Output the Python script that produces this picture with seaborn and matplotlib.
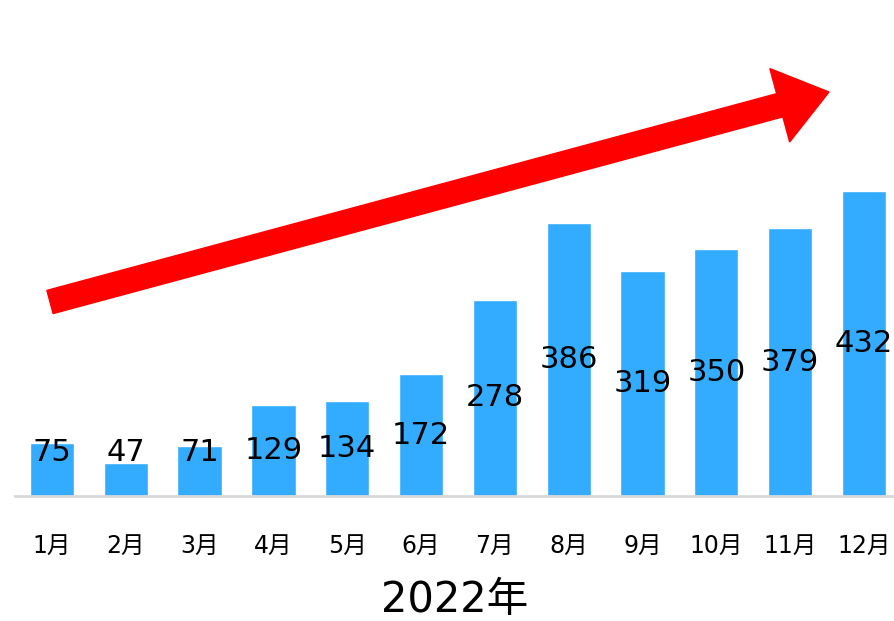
import matplotlib
matplotlib.use("Agg")
import matplotlib.pyplot as plt
import seaborn as sns
import pandas as pd
from matplotlib.patches import FancyArrow
from matplotlib.transforms import IdentityTransform

months = ["1月", "2月", "3月", "4月", "5月", "6月", "7月", "8月", "9月", "10月", "11月", "12月"]
values = [75, 47, 71, 129, 134, 172, 278, 386, 319, 350, 379, 432]
xlabel = "2022年"

sns.set_theme(style="white")
FAM = ["DejaVu Sans", "Noto Sans CJK JP"]
plt.rcParams["font.family"] = FAM
plt.rcParams["text.color"] = "black"
plt.rcParams["xtick.color"] = "black"

W, H = 894, 621
fig = plt.figure(figsize=(W / 100, H / 100), dpi=100)
ax_left = 15 / W
ax_bottom = (H - 496) / H
ax_width = 12 * 73.82 / W
ax_height = 424 / H
ax = fig.add_axes([ax_left, ax_bottom, ax_width, ax_height])

df = pd.DataFrame({"month": months, "value": values})
sns.barplot(data=df, x="month", y="value", color="#33ABFF", saturation=1,
            width=0.6, ax=ax)
ax.set_xlim(-0.5, 11.5)
ax.set_ylim(0, 600)

for i, v in enumerate(values):
    ax.text(i, max(v / 2, 61), str(v), ha="center", va="center",
            fontsize=22, family="DejaVu Sans", color="black")

for s in ["top", "right", "left"]:
    ax.spines[s].set_visible(False)
ax.spines["bottom"].set_color("#D9D9D9")
ax.spines["bottom"].set_linewidth(2)
ax.set_yticks([])
ax.set_ylabel("")
ax.set_xlabel("")
ax.tick_params(axis="x", length=0, pad=27, labelsize=17, labelcolor="black")
for lab in ax.get_xticklabels():
    lab.set_family(FAM)

fig.text(455 / W, 1 - 600 / H, xlabel, ha="center", va="center", fontsize=30,
         family=FAM, color="black")

arrow = FancyArrow(50, H - 302, 779, 210, width=24, head_width=76,
                   head_length=51, length_includes_head=True,
                   color="#FF0000", transform=IdentityTransform())
fig.add_artist(arrow)

fig.savefig("out.png", dpi=100)
